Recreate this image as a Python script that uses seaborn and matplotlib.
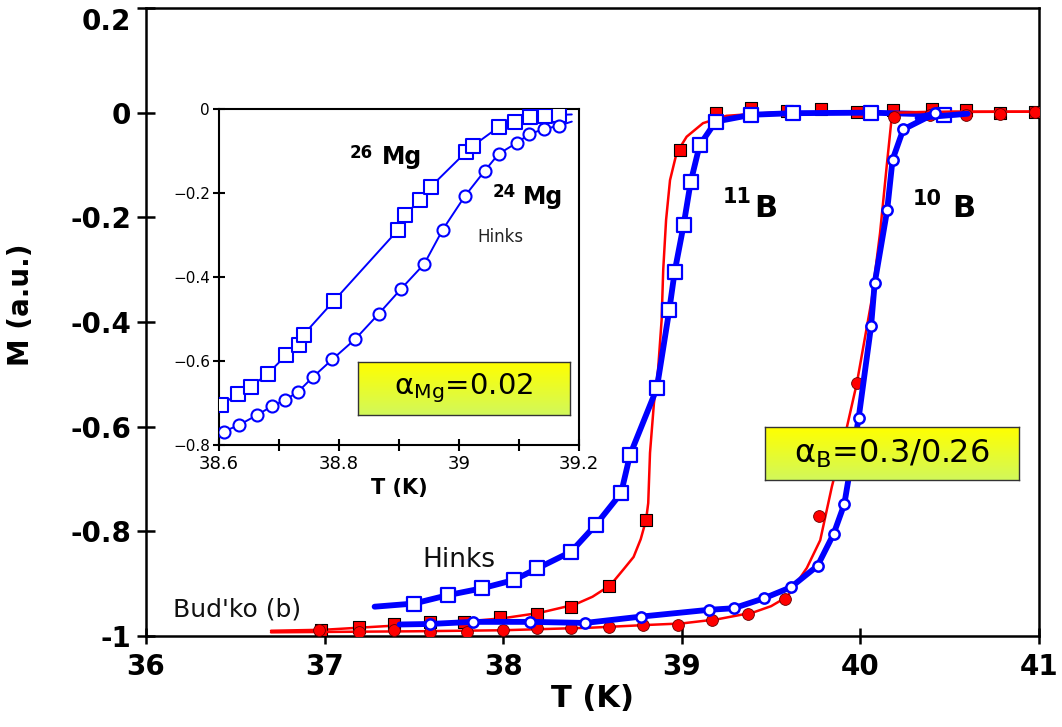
import numpy as np
import matplotlib
matplotlib.use("Agg")
import matplotlib.pyplot as plt
from matplotlib.colors import LinearSegmentedColormap
import seaborn as sns

# ---------------- data ----------------
# Bud'ko (b), 11B : red filled squares
budko11_T = [36.98, 37.19, 37.39, 37.59, 37.78, 37.98, 38.19, 38.38, 38.59, 38.80,
             38.99, 39.19, 39.39, 39.59, 39.78, 39.98, 40.18, 40.40, 40.59, 40.78, 40.98]
budko11_M = [-0.989, -0.982, -0.977, -0.974, -0.973, -0.964, -0.958, -0.944, -0.904, -0.778,
             -0.071, -0.001, 0.008, 0.004, 0.007, 0.002, 0.005, 0.007, 0.005, 0.000, 0.002]
# red smooth curve through 11B
budko11_line_T = [36.70, 37.00, 37.40, 37.80, 38.00, 38.20, 38.40, 38.50, 38.60, 38.68, 38.73,
                  38.77, 38.80, 38.812, 38.822, 38.844, 38.867, 38.887, 38.896, 38.912, 38.934,
                  38.971, 39.027, 39.119, 39.25, 39.50, 41.00]
budko11_line_M = [-0.990, -0.988, -0.980, -0.972, -0.966, -0.956, -0.940, -0.925, -0.903, -0.870,
                  -0.849, -0.815, -0.778, -0.746, -0.650, -0.555, -0.492, -0.396, -0.300, -0.205,
                  -0.129, -0.077, -0.046, -0.020, -0.006, 0.000, 0.002]

# Bud'ko (b), 10B : red filled circles
budko10_T = [36.97, 37.19, 37.39, 37.59, 37.80, 38.00, 38.19, 38.38, 38.59, 38.78, 38.98,
             39.17, 39.37, 39.58, 39.77, 39.98, 40.19, 40.39, 40.59, 40.78, 40.98]
budko10_M = [-0.989, -0.992, -0.989, -0.992, -0.992, -0.989, -0.985, -0.985, -0.982, -0.979, -0.979,
             -0.970, -0.958, -0.929, -0.771, -0.516, -0.008, -0.004, -0.004, -0.003, 0.002]
budko10_line_T = [36.70, 37.50, 38.00, 38.50, 38.80, 39.00, 39.20, 39.40, 39.50, 39.59, 39.70,
                  39.775, 39.84, 39.925, 39.98, 40.063, 40.11, 40.147, 40.175, 40.19, 40.50, 41.00]
budko10_line_M = [-0.993, -0.991, -0.989, -0.984, -0.979, -0.976, -0.968, -0.955, -0.943, -0.925, -0.870,
                  -0.817, -0.715, -0.600, -0.517, -0.358, -0.230, -0.103, -0.010, 0.000, 0.002, 0.002]

# Hinks, 11B : blue open squares
hinks11_T = [37.50, 37.69, 37.88, 38.06, 38.19, 38.38, 38.52, 38.66, 38.71, 38.86,
             38.93, 38.96, 39.01, 39.05, 39.10, 39.19, 39.39, 39.62, 40.06, 40.47]
hinks11_M = [-0.938, -0.922, -0.909, -0.893, -0.871, -0.839, -0.787, -0.727, -0.654, -0.527,
             -0.377, -0.304, -0.215, -0.132, -0.062, -0.017, -0.004, -0.001, 0.000, -0.004]
hinks11_start = (37.28, -0.944)
hinks11_end = (40.60, -0.002)

# Hinks, 10B : blue open circles
hinks10_T = [37.59, 37.83, 38.15, 38.46, 38.77, 39.15, 39.29, 39.46, 39.61, 39.76,
             39.85, 39.91, 39.99, 40.06, 40.08, 40.15, 40.18, 40.24, 40.42]
hinks10_M = [-0.977, -0.973, -0.973, -0.975, -0.963, -0.950, -0.947, -0.928, -0.907, -0.866,
             -0.805, -0.748, -0.584, -0.407, -0.326, -0.186, -0.090, -0.032, -0.001]
hinks10_start = (37.42, -0.978)
hinks10_mid = (40.32, -0.010)
hinks10_end = (40.60, -0.002)

# inset: 26Mg (open squares) and 24Mg (open circles)
mg26_T = [38.603, 38.631, 38.653, 38.681, 38.712, 38.734, 38.741, 38.792, 38.899, 38.910,
          38.935, 38.953, 39.012, 39.023, 39.067, 39.093, 39.118, 39.143, 39.167]
mg26_M = [-0.705, -0.679, -0.661, -0.631, -0.586, -0.562, -0.537, -0.456, -0.287, -0.252,
          -0.217, -0.185, -0.102, -0.088, -0.042, -0.030, -0.020, -0.017, -0.014]
mg26_end = (39.188, -0.013)
mg24_T = [38.608, 38.634, 38.663, 38.689, 38.710, 38.732, 38.756, 38.789, 38.827, 38.866,
          38.903, 38.942, 38.973, 39.010, 39.043, 39.066, 39.097, 39.117, 39.141, 39.166]
mg24_M = [-0.768, -0.752, -0.729, -0.707, -0.693, -0.673, -0.639, -0.596, -0.548, -0.488,
          -0.429, -0.369, -0.287, -0.207, -0.147, -0.107, -0.080, -0.060, -0.048, -0.040]
mg24_end = (39.188, -0.030)

# ticks
main_xticks = [36, 37, 38, 39, 40, 41]
main_xlabels = ["36", "37", "38", "39", "40", "41"]
main_yticks = [0.2, 0.0, -0.2, -0.4, -0.6, -0.8, -1.0]
main_ylabels = ["0.2", "0", "-0.2", "-0.4", "-0.6", "-0.8", "-1"]
inset_xticks = [38.6, 38.8, 39.0, 39.2]
inset_xlabels = ["38.6", "38.8", "39", "39.2"]
inset_xminor = [38.7, 38.9, 39.1]
inset_yticks = [0.0, -0.2, -0.4, -0.6, -0.8]
inset_ylabels = ["0", "\u22120.2", "\u22120.4", "\u22120.6", "\u22120.8"]

# ---------------- style ----------------
sns.set_style("white")
plt.rcParams["font.family"] = ["DejaVu Sans"]
plt.rcParams["mathtext.default"] = "regular"
for key in ["text.color", "axes.labelcolor", "xtick.color", "ytick.color",
            "xtick.labelcolor", "ytick.labelcolor"]:
    plt.rcParams[key] = "black"

RED = "#FF0000"
BLUE = "#0000FF"
W, H = 1062, 727

fig = plt.figure(figsize=(W / 100, H / 100), dpi=100)
fig.patch.set_facecolor("white")


def fx(x):
    return x / W


def fy(y):
    return 1 - y / H


ax = fig.add_axes([fx(146), fy(636), (1039 - 146) / W, (636 - 8) / H])
ax.set_facecolor("white")

# red 11B
sns.lineplot(x=budko11_line_T, y=budko11_line_M, ax=ax, color=RED, linewidth=1.8,
             sort=False, estimator=None, zorder=2, legend=False)
sns.scatterplot(x=budko11_T, y=budko11_M, ax=ax, marker="s", s=80, color=RED,
                edgecolor="black", linewidth=0.8, zorder=3, legend=False)
# blue 11B (Hinks)
h11_T = [hinks11_start[0]] + hinks11_T + [hinks11_end[0]]
h11_M = [hinks11_start[1]] + hinks11_M + [hinks11_end[1]]
sns.lineplot(x=h11_T, y=h11_M, ax=ax, color=BLUE, linewidth=4.2,
             sort=False, estimator=None, zorder=4, legend=False)
sns.scatterplot(x=hinks11_T, y=hinks11_M, ax=ax, marker="s", s=90, color="white",
                edgecolor=BLUE, linewidth=1.6, zorder=5, legend=False)
# red 10B
sns.lineplot(x=budko10_line_T, y=budko10_line_M, ax=ax, color=RED, linewidth=1.8,
             sort=False, estimator=None, zorder=6, legend=False)
sns.scatterplot(x=budko10_T, y=budko10_M, ax=ax, marker="o", s=72, color=RED,
                edgecolor="#660000", linewidth=0.6, zorder=7, legend=False)
# blue 10B (Hinks)
h10_T = [hinks10_start[0]] + hinks10_T + [hinks10_mid[0], hinks10_end[0]]
h10_M = [hinks10_start[1]] + hinks10_M + [hinks10_mid[1], hinks10_end[1]]
sns.lineplot(x=h10_T, y=h10_M, ax=ax, color=BLUE, linewidth=4.2,
             sort=False, estimator=None, zorder=8, legend=False)
sns.scatterplot(x=hinks10_T, y=hinks10_M, ax=ax, marker="o", s=55, color="white",
                edgecolor=BLUE, linewidth=1.8, zorder=9, legend=False)

ax.set_xlim(36, 41)
ax.set_ylim(-1, 0.2)
ax.set_xticks(main_xticks, labels=main_xlabels)
ax.set_yticks(main_yticks, labels=main_ylabels)
for s in ax.spines.values():
    s.set_visible(True)
    s.set_color("black")
    s.set_linewidth(1.8)
ax.tick_params(axis="x", direction="inout", length=11, width=1.8, labelsize=20, pad=7,
               bottom=True, colors="black")
ax.tick_params(axis="y", direction="inout", length=13, width=1.8, labelsize=20, pad=4,
               left=True, colors="black")
for lab in ax.get_xticklabels() + ax.get_yticklabels():
    lab.set_fontweight("bold")
# the top label sits just below its tick so it stays inside the picture
ax.get_yticklabels()[0].set_verticalalignment("top")
ax.set_xlabel("T (K)", fontsize=22, fontweight="bold", labelpad=2, color="black")
ax.set_ylabel("M (a.u.)", fontsize=20, fontweight="bold", color="black")
ax.yaxis.set_label_coords(-0.124, 0.527)

# text labels in main axes
fig.text(fx(723), fy(203), "11", fontsize=15, fontweight="bold", va="baseline", color="black")
fig.text(fx(754), fy(217), "B", fontsize=22, fontweight="bold", va="baseline", color="black")
fig.text(fx(913), fy(205), "10", fontsize=15, fontweight="bold", va="baseline", color="black")
fig.text(fx(952), fy(217), "B", fontsize=22, fontweight="bold", va="baseline", color="black")
fig.text(fx(422), fy(567), "Hinks", fontsize=19, va="baseline", color="#111111")
fig.text(fx(173), fy(617), "Bud'ko (b)", fontsize=18, va="baseline", color="#111111")

# ---------------- inset ----------------
ins = fig.add_axes([fx(219), fy(445), 360 / W, 336 / H])
ins.set_facecolor("white")
m26_T = mg26_T + [mg26_end[0]]
m26_M = mg26_M + [mg26_end[1]]
m24_T = mg24_T + [mg24_end[0]]
m24_M = mg24_M + [mg24_end[1]]
sns.lineplot(x=m26_T, y=m26_M, ax=ins, color=BLUE, linewidth=1.4, sort=False,
             estimator=None, zorder=2, legend=False)
sns.scatterplot(x=mg26_T, y=mg26_M, ax=ins, marker="s", s=95, color="white",
                edgecolor=BLUE, linewidth=1.5, zorder=3, legend=False)
sns.lineplot(x=m24_T, y=m24_M, ax=ins, color=BLUE, linewidth=1.4, sort=False,
             estimator=None, zorder=2, legend=False)
sns.scatterplot(x=mg24_T, y=mg24_M, ax=ins, marker="o", s=75, color="white",
                edgecolor=BLUE, linewidth=1.5, zorder=3, legend=False)
ins.set_xlim(38.6, 39.2)
ins.set_ylim(-0.8, 0.0)
ins.set_xticks(inset_xticks, labels=inset_xlabels)
ins.set_xticks(inset_xminor, minor=True)
ins.set_yticks(inset_yticks, labels=inset_ylabels)
for s in ins.spines.values():
    s.set_visible(True)
    s.set_color("black")
    s.set_linewidth(1.5)
ins.tick_params(axis="x", which="both", direction="inout", length=9, width=1.5,
                labelsize=13, pad=3, bottom=True, colors="black")
ins.tick_params(axis="y", direction="inout", length=9, width=1.5, labelsize=11, pad=2,
                left=True, colors="black")
ins.set_xlabel("T (K)", fontsize=15, fontweight="bold", labelpad=3, color="black")

fig.text(fx(350), fy(158), "26", fontsize=12, fontweight="bold", va="baseline", color="black")
fig.text(fx(382), fy(164), "Mg", fontsize=17, fontweight="bold", va="baseline", color="black")
fig.text(fx(493), fy(197), "24", fontsize=12, fontweight="bold", va="baseline", color="black")
fig.text(fx(523), fy(204), "Mg", fontsize=17, fontweight="bold", va="baseline", color="black")
fig.text(fx(477), fy(242), "Hinks", fontsize=12, va="baseline", color="#222222")

# ---------------- yellow labels ----------------
grad_cmap = LinearSegmentedColormap.from_list("yg", ["#FFFF00", "#D2F85A"])


def add_box(x0, y0, x1, y1, txt, size):
    bax = fig.add_axes([fx(x0), fy(y1), (x1 - x0) / W, (y1 - y0) / H])
    g = np.linspace(0, 1, 64).reshape(-1, 1)
    bax.imshow(g, aspect="auto", cmap=grad_cmap, extent=[0, 1, 0, 1], origin="upper")
    bax.set_xticks([])
    bax.set_yticks([])
    for s in bax.spines.values():
        s.set_visible(True)
        s.set_color("#333333")
        s.set_linewidth(1.0)
    bax.text(0.5, 0.5, txt, ha="center", va="center", fontsize=size,
             transform=bax.transAxes, color="black")
    return bax


add_box(765, 427, 1019, 480, "\u03b1$_{B}$=0.3/0.26", 23)
add_box(358, 362, 570, 415, "\u03b1$_{Mg}$=0.02", 21)

fig.savefig("out.png", dpi=100, facecolor="white")
